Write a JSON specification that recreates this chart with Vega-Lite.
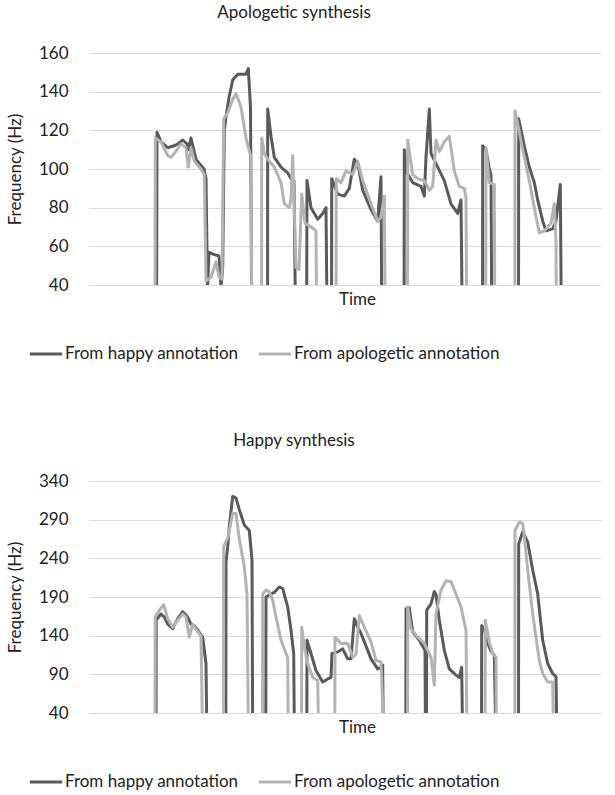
{
"$schema": "https://vega.github.io/schema/vega-lite/v6.json",
"padding": {"left": 6, "top": 3, "right": 5, "bottom": 5},
"background": "white",
"config": {
  "font": "Lato",
  "view": {"stroke": null},
  "title": {"fontSize": 17, "fontWeight": "normal", "color": "#222222", "font": "Lato", "offset": 22.5, "dx": -51},
  "axis": {"labelFont": "Lato", "titleFont": "Lato", "labelFontSize": 17, "titleFontSize": 17, "titleFontWeight": "normal", "labelColor": "#222222", "titleColor": "#222222", "gridColor": "#d9d9d9", "gridWidth": 1},
  "legend": {"labelFont": "Lato", "labelFontSize": 17, "labelColor": "#222222", "labelLimit": 0}
},
"datasets": {
"apo": [
{"series":"happy","time":67.5,"hz":0},{"series":"happy","time":68,"hz":119},{"series":"happy","time":72,"hz":114},{"series":"happy","time":78.7,"hz":111},{"series":"happy","time":85,"hz":112},{"series":"happy","time":89,"hz":113},{"series":"happy","time":93.7,"hz":115},{"series":"happy","time":98,"hz":113},{"series":"happy","time":99.5,"hz":110},{"series":"happy","time":102,"hz":116},{"series":"happy","time":107,"hz":105},{"series":"happy","time":115,"hz":100},{"series":"happy","time":117,"hz":95},{"series":"happy","time":118.5,"hz":38},{"series":"happy","time":120,"hz":57},{"series":"happy","time":124,"hz":56},{"series":"happy","time":130,"hz":55},{"series":"happy","time":132,"hz":39},{"series":"happy","time":133.7,"hz":49},{"series":"happy","time":135.3,"hz":120},{"series":"happy","time":137,"hz":127},{"series":"happy","time":140,"hz":137},{"series":"happy","time":143.7,"hz":146},{"series":"happy","time":148.7,"hz":149},{"series":"happy","time":157,"hz":149},{"series":"happy","time":159.3,"hz":152},{"series":"happy","time":161.5,"hz":132},{"series":"happy","time":163,"hz":0},
{"series":"happy","time":178.5,"hz":0},{"series":"happy","time":178.7,"hz":131},{"series":"happy","time":182,"hz":117},{"series":"happy","time":185.3,"hz":106},{"series":"happy","time":192,"hz":101},{"series":"happy","time":198.7,"hz":98},{"series":"happy","time":202,"hz":95},{"series":"happy","time":205,"hz":94},{"series":"happy","time":207,"hz":0},
{"series":"happy","time":217.5,"hz":0},{"series":"happy","time":218,"hz":94},{"series":"happy","time":222,"hz":80},{"series":"happy","time":228.7,"hz":74},{"series":"happy","time":233.7,"hz":77},{"series":"happy","time":237,"hz":80},{"series":"happy","time":238.5,"hz":0},
{"series":"happy","time":242.5,"hz":0},{"series":"happy","time":242.7,"hz":95},{"series":"happy","time":248.7,"hz":87},{"series":"happy","time":255.3,"hz":86},{"series":"happy","time":260.3,"hz":90},{"series":"happy","time":265.3,"hz":105},{"series":"happy","time":268.7,"hz":103},{"series":"happy","time":273.7,"hz":89},{"series":"happy","time":282,"hz":79},{"series":"happy","time":288.7,"hz":73},{"series":"happy","time":292,"hz":96},{"series":"happy","time":293,"hz":0},
{"series":"happy","time":315,"hz":0},{"series":"happy","time":315.3,"hz":110},{"series":"happy","time":318,"hz":98},{"series":"happy","time":323.7,"hz":93},{"series":"happy","time":332,"hz":91},{"series":"happy","time":335.3,"hz":86},{"series":"happy","time":337,"hz":106},{"series":"happy","time":340.3,"hz":131},{"series":"happy","time":342,"hz":108},{"series":"happy","time":348.7,"hz":101},{"series":"happy","time":355.3,"hz":94},{"series":"happy","time":362,"hz":82},{"series":"happy","time":368.7,"hz":77},{"series":"happy","time":372,"hz":84},{"series":"happy","time":373.7,"hz":0},
{"series":"happy","time":393.5,"hz":0},{"series":"happy","time":393.7,"hz":112},{"series":"happy","time":397,"hz":110},{"series":"happy","time":400.3,"hz":100},{"series":"happy","time":402,"hz":97},{"series":"happy","time":403,"hz":0},
{"series":"happy","time":429.5,"hz":0},{"series":"happy","time":429.7,"hz":126},{"series":"happy","time":435.3,"hz":112},{"series":"happy","time":440.3,"hz":101},{"series":"happy","time":445.3,"hz":93},{"series":"happy","time":448.7,"hz":84},{"series":"happy","time":453.7,"hz":73},{"series":"happy","time":457,"hz":68},{"series":"happy","time":463.7,"hz":69},{"series":"happy","time":467,"hz":73},{"series":"happy","time":471.3,"hz":92},{"series":"happy","time":472.7,"hz":0},
{"series":"apologetic","time":66,"hz":0},{"series":"apologetic","time":66.3,"hz":116},{"series":"apologetic","time":72,"hz":114},{"series":"apologetic","time":78.7,"hz":107},{"series":"apologetic","time":82,"hz":106},{"series":"apologetic","time":85.3,"hz":108},{"series":"apologetic","time":92,"hz":113},{"series":"apologetic","time":97,"hz":111},{"series":"apologetic","time":99.3,"hz":101},{"series":"apologetic","time":102,"hz":111},{"series":"apologetic","time":105.3,"hz":104},{"series":"apologetic","time":112,"hz":100},{"series":"apologetic","time":115.3,"hz":97},{"series":"apologetic","time":117,"hz":42},{"series":"apologetic","time":122,"hz":44},{"series":"apologetic","time":127,"hz":52},{"series":"apologetic","time":130,"hz":44},{"series":"apologetic","time":133,"hz":43},{"series":"apologetic","time":134.7,"hz":126},{"series":"apologetic","time":138.7,"hz":129},{"series":"apologetic","time":143.7,"hz":136},{"series":"apologetic","time":147,"hz":139},{"series":"apologetic","time":152,"hz":132},{"series":"apologetic","time":157,"hz":116},{"series":"apologetic","time":162,"hz":106},{"series":"apologetic","time":163,"hz":0},
{"series":"apologetic","time":172.5,"hz":0},{"series":"apologetic","time":172.7,"hz":116},{"series":"apologetic","time":175.3,"hz":108},{"series":"apologetic","time":178.7,"hz":105},{"series":"apologetic","time":185.3,"hz":101},{"series":"apologetic","time":192,"hz":93},{"series":"apologetic","time":195.3,"hz":82},{"series":"apologetic","time":200.3,"hz":80},{"series":"apologetic","time":202,"hz":85},{"series":"apologetic","time":203.7,"hz":107},{"series":"apologetic","time":205.3,"hz":80},{"series":"apologetic","time":207,"hz":49},{"series":"apologetic","time":210,"hz":48},{"series":"apologetic","time":212.7,"hz":87},{"series":"apologetic","time":216,"hz":72},{"series":"apologetic","time":222,"hz":70},{"series":"apologetic","time":227,"hz":68},{"series":"apologetic","time":228,"hz":0},
{"series":"apologetic","time":247,"hz":0},{"series":"apologetic","time":247.3,"hz":95},{"series":"apologetic","time":252,"hz":93},{"series":"apologetic","time":257,"hz":99},{"series":"apologetic","time":263.7,"hz":97},{"series":"apologetic","time":268.7,"hz":104},{"series":"apologetic","time":273.7,"hz":94},{"series":"apologetic","time":282,"hz":82},{"series":"apologetic","time":288.7,"hz":73},{"series":"apologetic","time":292,"hz":75},{"series":"apologetic","time":295.3,"hz":86},{"series":"apologetic","time":296.5,"hz":0},
{"series":"apologetic","time":318.5,"hz":0},{"series":"apologetic","time":318.7,"hz":115},{"series":"apologetic","time":323.7,"hz":97},{"series":"apologetic","time":328.7,"hz":95},{"series":"apologetic","time":335.3,"hz":94},{"series":"apologetic","time":340.3,"hz":89},{"series":"apologetic","time":343.7,"hz":91},{"series":"apologetic","time":347,"hz":115},{"series":"apologetic","time":350.3,"hz":109},{"series":"apologetic","time":355.3,"hz":114},{"series":"apologetic","time":360.3,"hz":117},{"series":"apologetic","time":365.3,"hz":99},{"series":"apologetic","time":370.3,"hz":91},{"series":"apologetic","time":375.3,"hz":90},{"series":"apologetic","time":377,"hz":85},{"series":"apologetic","time":378,"hz":0},
{"series":"apologetic","time":396.5,"hz":0},{"series":"apologetic","time":397,"hz":111},{"series":"apologetic","time":400.3,"hz":93},{"series":"apologetic","time":405.3,"hz":92},{"series":"apologetic","time":406,"hz":0},
{"series":"apologetic","time":425.8,"hz":0},{"series":"apologetic","time":426,"hz":130},{"series":"apologetic","time":430,"hz":120},{"series":"apologetic","time":433.7,"hz":110},{"series":"apologetic","time":440.3,"hz":94},{"series":"apologetic","time":445.3,"hz":80},{"series":"apologetic","time":450.3,"hz":67},{"series":"apologetic","time":455.3,"hz":68},{"series":"apologetic","time":462,"hz":72},{"series":"apologetic","time":465.3,"hz":82},{"series":"apologetic","time":467,"hz":62},{"series":"apologetic","time":467.5,"hz":0}
],
"hap": [
{"series":"happy","time":67,"hz":0},{"series":"happy","time":67.2,"hz":160},{"series":"happy","time":72,"hz":168},{"series":"happy","time":75.3,"hz":164},{"series":"happy","time":78.7,"hz":155},{"series":"happy","time":83.7,"hz":149},{"series":"happy","time":88.7,"hz":162},{"series":"happy","time":93.7,"hz":171},{"series":"happy","time":98.7,"hz":164},{"series":"happy","time":102,"hz":155},{"series":"happy","time":105.3,"hz":153},{"series":"happy","time":108.7,"hz":147},{"series":"happy","time":113.7,"hz":138},{"series":"happy","time":117,"hz":104},{"series":"happy","time":118,"hz":0},
{"series":"happy","time":136.8,"hz":0},{"series":"happy","time":137,"hz":235},{"series":"happy","time":138.7,"hz":255},{"series":"happy","time":140.3,"hz":281},{"series":"happy","time":143.7,"hz":320},{"series":"happy","time":147,"hz":318},{"series":"happy","time":150.3,"hz":303},{"series":"happy","time":155.3,"hz":283},{"series":"happy","time":160.3,"hz":276},{"series":"happy","time":163,"hz":238},{"series":"happy","time":163.7,"hz":0},
{"series":"happy","time":176.8,"hz":0},{"series":"happy","time":177,"hz":190},{"series":"happy","time":182,"hz":194},{"series":"happy","time":185.3,"hz":196},{"series":"happy","time":190.3,"hz":203},{"series":"happy","time":193.7,"hz":201},{"series":"happy","time":198.7,"hz":177},{"series":"happy","time":202,"hz":147},{"series":"happy","time":204.7,"hz":117},{"series":"happy","time":205.5,"hz":0},
{"series":"happy","time":217.8,"hz":0},{"series":"happy","time":218,"hz":134},{"series":"happy","time":222,"hz":117},{"series":"happy","time":227,"hz":95},{"series":"happy","time":233.7,"hz":80},{"series":"happy","time":238.7,"hz":84},{"series":"happy","time":242,"hz":86},{"series":"happy","time":243,"hz":117},{"series":"happy","time":248.7,"hz":119},{"series":"happy","time":253.7,"hz":123},{"series":"happy","time":258.7,"hz":110},{"series":"happy","time":262,"hz":110},{"series":"happy","time":265.3,"hz":162},{"series":"happy","time":268.7,"hz":151},{"series":"happy","time":272,"hz":143},{"series":"happy","time":278.7,"hz":121},{"series":"happy","time":282,"hz":110},{"series":"happy","time":288.7,"hz":97},{"series":"happy","time":292,"hz":99},{"series":"happy","time":293.7,"hz":102},{"series":"happy","time":294.3,"hz":0},
{"series":"happy","time":316.8,"hz":0},{"series":"happy","time":317,"hz":175},{"series":"happy","time":320.3,"hz":176},{"series":"happy","time":323.7,"hz":145},{"series":"happy","time":330.3,"hz":134},{"series":"happy","time":336,"hz":121},{"series":"happy","time":336.5,"hz":0},{"series":"happy","time":337.5,"hz":0},{"series":"happy","time":337.7,"hz":173},{"series":"happy","time":342,"hz":181},{"series":"happy","time":345.3,"hz":197},{"series":"happy","time":347,"hz":193},{"series":"happy","time":350.3,"hz":160},{"series":"happy","time":355.3,"hz":121},{"series":"happy","time":360.3,"hz":97},{"series":"happy","time":367,"hz":89},{"series":"happy","time":370.3,"hz":86},{"series":"happy","time":372.7,"hz":99},{"series":"happy","time":373.7,"hz":0},
{"series":"happy","time":392.5,"hz":0},{"series":"happy","time":392.7,"hz":153},{"series":"happy","time":395.3,"hz":148},{"series":"happy","time":398.7,"hz":130},{"series":"happy","time":402,"hz":120},{"series":"happy","time":405.3,"hz":115},{"series":"happy","time":407,"hz":0},
{"series":"happy","time":429.5,"hz":0},{"series":"happy","time":429.7,"hz":259},{"series":"happy","time":433.7,"hz":274},{"series":"happy","time":438.7,"hz":261},{"series":"happy","time":443.7,"hz":225},{"series":"happy","time":448.7,"hz":194},{"series":"happy","time":453.7,"hz":134},{"series":"happy","time":458.7,"hz":104},{"series":"happy","time":463.7,"hz":91},{"series":"happy","time":467,"hz":87},{"series":"happy","time":468,"hz":0},
{"series":"apologetic","time":66,"hz":0},{"series":"apologetic","time":66.2,"hz":164},{"series":"apologetic","time":70.3,"hz":173},{"series":"apologetic","time":74.7,"hz":180},{"series":"apologetic","time":78.7,"hz":162},{"series":"apologetic","time":83.7,"hz":151},{"series":"apologetic","time":88.7,"hz":160},{"series":"apologetic","time":93.7,"hz":168},{"series":"apologetic","time":97,"hz":164},{"series":"apologetic","time":100.3,"hz":138},{"series":"apologetic","time":103.7,"hz":155},{"series":"apologetic","time":108.7,"hz":145},{"series":"apologetic","time":112,"hz":140},{"series":"apologetic","time":113.7,"hz":0},
{"series":"apologetic","time":134.5,"hz":0},{"series":"apologetic","time":134.7,"hz":255},{"series":"apologetic","time":138.7,"hz":266},{"series":"apologetic","time":143.7,"hz":298},{"series":"apologetic","time":147,"hz":298},{"series":"apologetic","time":150.3,"hz":265},{"series":"apologetic","time":155.3,"hz":229},{"series":"apologetic","time":158,"hz":194},{"series":"apologetic","time":159.5,"hz":0},
{"series":"apologetic","time":173.5,"hz":0},{"series":"apologetic","time":173.7,"hz":194},{"series":"apologetic","time":177,"hz":199},{"series":"apologetic","time":180.3,"hz":197},{"series":"apologetic","time":183.7,"hz":186},{"series":"apologetic","time":187,"hz":164},{"series":"apologetic","time":192,"hz":134},{"series":"apologetic","time":197,"hz":117},{"series":"apologetic","time":198.7,"hz":112},{"series":"apologetic","time":199.3,"hz":0},
{"series":"apologetic","time":212.5,"hz":0},{"series":"apologetic","time":212.7,"hz":151},{"series":"apologetic","time":215.3,"hz":125},{"series":"apologetic","time":218.7,"hz":104},{"series":"apologetic","time":223.7,"hz":86},{"series":"apologetic","time":228.7,"hz":82},{"series":"apologetic","time":229.7,"hz":0},
{"series":"apologetic","time":245.8,"hz":0},{"series":"apologetic","time":246,"hz":138},{"series":"apologetic","time":252,"hz":130},{"series":"apologetic","time":258.7,"hz":130},{"series":"apologetic","time":263.7,"hz":112},{"series":"apologetic","time":267,"hz":116},{"series":"apologetic","time":270.3,"hz":166},{"series":"apologetic","time":275.3,"hz":151},{"series":"apologetic","time":282,"hz":132},{"series":"apologetic","time":287,"hz":108},{"series":"apologetic","time":292,"hz":106},{"series":"apologetic","time":295.3,"hz":0},
{"series":"apologetic","time":318.5,"hz":0},{"series":"apologetic","time":318.7,"hz":177},{"series":"apologetic","time":322,"hz":149},{"series":"apologetic","time":328.7,"hz":138},{"series":"apologetic","time":335.3,"hz":130},{"series":"apologetic","time":342,"hz":112},{"series":"apologetic","time":345.3,"hz":76},{"series":"apologetic","time":347,"hz":168},{"series":"apologetic","time":352,"hz":199},{"series":"apologetic","time":357,"hz":211},{"series":"apologetic","time":362,"hz":210},{"series":"apologetic","time":367,"hz":194},{"series":"apologetic","time":372,"hz":177},{"series":"apologetic","time":377,"hz":147},{"series":"apologetic","time":378,"hz":0},
{"series":"apologetic","time":396,"hz":0},{"series":"apologetic","time":396.3,"hz":160},{"series":"apologetic","time":400.3,"hz":132},{"series":"apologetic","time":403.7,"hz":117},{"series":"apologetic","time":407,"hz":112},{"series":"apologetic","time":407.5,"hz":0},
{"series":"apologetic","time":425.8,"hz":0},{"series":"apologetic","time":426,"hz":276},{"series":"apologetic","time":430.3,"hz":287},{"series":"apologetic","time":433.7,"hz":285},{"series":"apologetic","time":435.3,"hz":268},{"series":"apologetic","time":438.7,"hz":225},{"series":"apologetic","time":443.7,"hz":168},{"series":"apologetic","time":447,"hz":138},{"series":"apologetic","time":450.3,"hz":108},{"series":"apologetic","time":453.7,"hz":91},{"series":"apologetic","time":458.7,"hz":80},{"series":"apologetic","time":463.7,"hz":80},{"series":"apologetic","time":464.7,"hz":0}
]
},
"spacing": 69,
"resolve": {"scale": {"color": "independent", "x": "independent", "y": "independent"}, "legend": {"color": "independent"}},
"vconcat": [
{
  "title": "Apologetic synthesis",
  "data": {"name": "apo"},
  "width": 512, "height": 232,
  "mark": {"type": "line", "clip": true, "strokeWidth": 3, "strokeJoin": "round", "strokeCap": "butt"},
  "encoding": {
    "x": {"field": "time", "type": "quantitative", "scale": {"domain": [0, 512], "nice": false}, "title": "Time",
          "axis": {"labels": false, "ticks": false, "grid": false, "domain": true, "domainColor": "#d9d9d9", "domainWidth": 1, "titlePadding": 6, "titleX": 268}},
    "y": {"field": "hz", "type": "quantitative", "scale": {"domain": [40, 160], "nice": false, "zero": false}, "title": "Frequency (Hz)",
          "axis": {"values": [40, 60, 80, 100, 120, 140, 160], "domain": false, "ticks": false, "labelPadding": 21, "titlePadding": 14}},
    "color": {"field": "series", "type": "nominal", "sort": ["happy", "apologetic"],
              "scale": {"domain": ["happy", "apologetic"], "range": ["#5a5a5a", "#b3b3b3"]},
              "legend": {"title": null, "orient": "none", "legendX": -61, "legendY": 283, "direction": "horizontal", "symbolType": "stroke", "symbolStrokeWidth": 3, "symbolSize": 1050, "labelOffset": 1, "columnPadding": 13, "labelExpr": "'From ' + datum.label + ' annotation'"}}
  }
},
{
  "title": "Happy synthesis",
  "data": {"name": "hap"},
  "width": 512, "height": 232,
  "mark": {"type": "line", "clip": true, "strokeWidth": 3, "strokeJoin": "round", "strokeCap": "butt"},
  "encoding": {
    "x": {"field": "time", "type": "quantitative", "scale": {"domain": [0, 512], "nice": false}, "title": "Time",
          "axis": {"labels": false, "ticks": false, "grid": false, "domain": true, "domainColor": "#d9d9d9", "domainWidth": 1, "titlePadding": 6, "titleX": 268}},
    "y": {"field": "hz", "type": "quantitative", "scale": {"domain": [40, 340], "nice": false, "zero": false}, "title": "Frequency (Hz)",
          "axis": {"values": [40, 90, 140, 190, 240, 290, 340], "domain": false, "ticks": false, "labelPadding": 21, "titlePadding": 14}},
    "color": {"field": "series", "type": "nominal", "sort": ["happy", "apologetic"],
              "scale": {"domain": ["happy", "apologetic"], "range": ["#5a5a5a", "#b3b3b3"]},
              "legend": {"title": null, "orient": "none", "legendX": -61, "legendY": 283, "direction": "horizontal", "symbolType": "stroke", "symbolStrokeWidth": 3, "symbolSize": 1050, "labelOffset": 1, "columnPadding": 13, "labelExpr": "'From ' + datum.label + ' annotation'"}}
  }
}
]
}
